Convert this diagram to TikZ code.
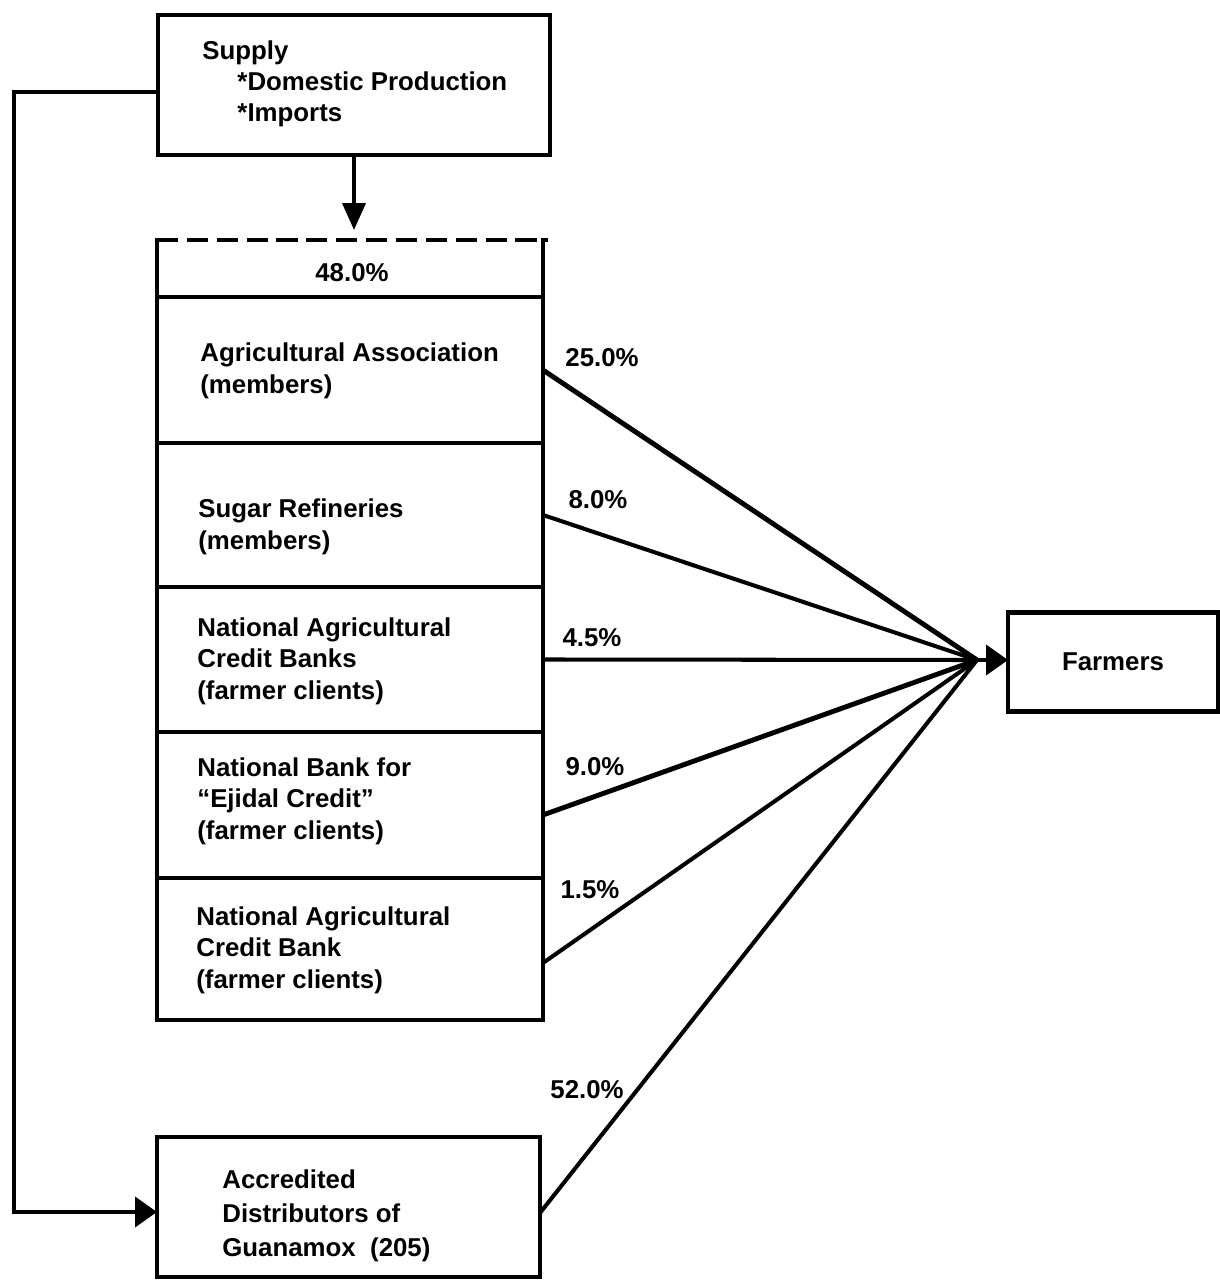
\documentclass[tikz,border=0pt]{standalone}
\usepackage{fontspec}
\setmainfont{Liberation Sans}
\usetikzlibrary{arrows.meta}
\begin{document}
\begin{tikzpicture}[x=0.02cm,y=-0.02cm,
  lw/.style={line width=2.3pt},
  txt/.style={font=\fontsize{14.7}{18}\selectfont\bfseries, inner sep=0pt, align=left},
  pct/.style={font=\fontsize{14.7}{18}\selectfont\bfseries, inner sep=0pt},
  rowbox/.style={draw, line width=2.3pt, minimum width=7.72cm, anchor=north west, inner sep=0pt, outer sep=0pt},
  link/.style={line width=2.3pt},
  tip/.style={-{Triangle[length=0.44cm,width=0.6cm]}},
  downtip/.style={-{Triangle[length=0.54cm,width=0.46cm]}},
]
\useasboundingbox (0,0) rectangle (1220,1281);

% supply
\node[draw, lw, minimum width=7.84cm, minimum height=2.8cm, inner sep=0pt, outer sep=0pt] (supply) at (354,85) {};
\node[inner sep=0pt, anchor=west, font=\fontsize{14.7}{17.6}\selectfont\bfseries] (supplyt) at (202,84)
  {\begin{tabular}{@{}l@{}}Supply\\\hspace*{20pt}*Domestic Production\\\hspace*{20pt}*Imports\end{tabular}};

% big box rows
\node[rowbox, draw=none, minimum height=1.14cm] (r0) at (157,240) {};
\node[rowbox, minimum height=2.92cm] (r1) at (157,297) {};
\node[rowbox, minimum height=2.88cm] (r2) at (157,443) {};
\node[rowbox, minimum height=2.90cm] (r3) at (157,587) {};
\node[rowbox, minimum height=2.92cm] (r4) at (157,732) {};
\node[rowbox, minimum height=2.84cm] (r5) at (157,878) {};
\draw[lw, line cap=rect] (r0.north west) -- (r0.south west);
\draw[lw, line cap=rect] (r0.north east) -- (r0.south east);
\draw[lw, dash pattern=on 12pt off 5pt] (r0.north west) -- ([xshift=0.1cm]r0.north east);

\node[pct] (p48) at (352,273) {48.0\%};
\node[txt, anchor=west] (t1) at (200,371) {Agricultural Association\\(members)};
\node[txt, anchor=west] (t2) at (198,527) {Sugar Refineries\\(members)};
\node[txt, anchor=west] (t3) at (197,661) {National Agricultural\\Credit Banks\\(farmer clients)};
\node[txt, anchor=west] (t4) at (197,801) {National Bank for\\``Ejidal Credit''\\(farmer clients)};
\node[txt, anchor=west] (t5) at (196,950) {National Agricultural\\Credit Bank\\(farmer clients)};

% accredited distributors
\node[rowbox, minimum width=7.66cm, minimum height=2.8cm] (acc) at (157,1137) {};
\node[txt, anchor=west, font=\fontsize{14.7}{19.3}\selectfont\bfseries] (acct) at (222,1216)
  {Accredited\\Distributors of\\Guanamox\ \ (205)};

% farmers
\node[draw, lw, minimum width=4.2cm, minimum height=1.98cm, txt, outer sep=0pt] (farm) at (1113,662) {Farmers};
\coordinate (hub) at (977,660);

% connectors
\draw[link, downtip, shorten >=0.2cm] (supply.south) -- (supply.south |- r0.north);
\draw[link, tip] ([yshift=-0.14cm]supply.west) -- ++(-144,0) |- ([yshift=-0.1cm]acc.west);

\draw[link, line width=2.8pt] (r1.east) -- (hub);
\draw[link] (r2.east) -- (hub);
\draw[link] (r3.east) -- (hub);
\draw[link, line width=2.8pt] ([yshift=-0.2cm]r4.east) -- (hub);
\draw[link] ([yshift=-0.28cm]r5.east) -- (hub);
\draw[link] ([yshift=-0.12cm]acc.east) -- (hub);
\draw[link, tip] (hub) -- (hub -| farm.west);

% percentages
\node[pct] (p25) at (602,358) {25.0\%};
\node[pct] (p8)  at (598,500) {8.0\%};
\node[pct] (p45) at (592,638) {4.5\%};
\node[pct] (p9)  at (595,767) {9.0\%};
\node[pct] (p15) at (590,890) {1.5\%};
\node[pct] (p52) at (587,1090) {52.0\%};
\end{tikzpicture}
\end{document}
